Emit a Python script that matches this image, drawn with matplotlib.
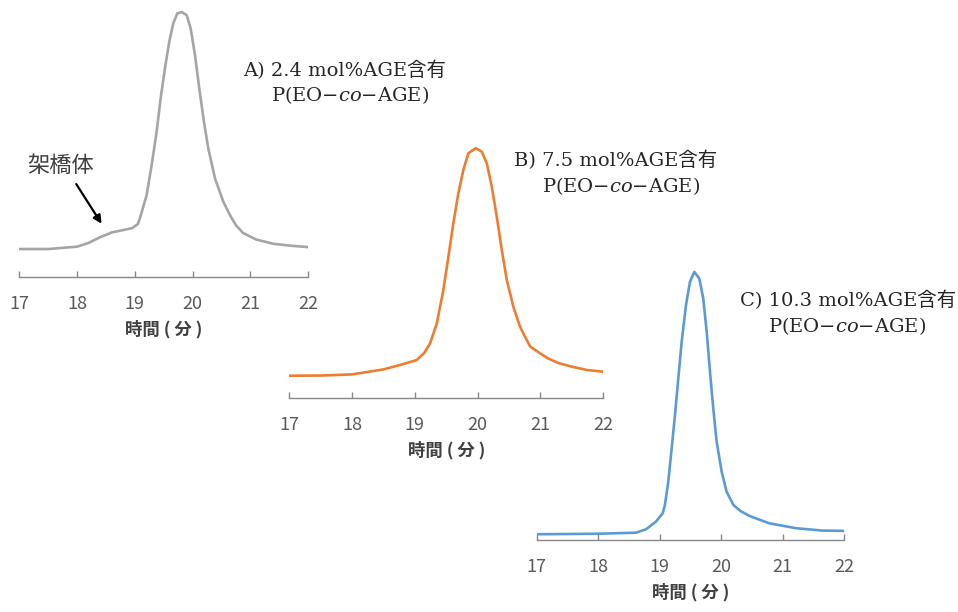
import matplotlib
matplotlib.use("Agg")
import matplotlib.pyplot as plt

# GPC traces (time in min, normalised intensity)
time_a = [17.0, 17.5, 18.0, 18.2, 18.4, 18.6, 18.8, 18.95, 19.05, 19.088,
          19.204, 19.29, 19.377, 19.446, 19.52, 19.595, 19.664, 19.734, 19.81,
          19.896, 19.965, 20.04, 20.114, 20.195, 20.27, 20.386, 20.53, 20.645,
          20.75, 20.87, 21.1, 21.4, 21.7, 22.0]
int_a = [0.0, 0.0, 0.01, 0.026, 0.05, 0.07, 0.08, 0.088, 0.105, 0.13,
         0.228, 0.354, 0.495, 0.636, 0.762, 0.875, 0.952, 0.994, 1.0,
         0.987, 0.931, 0.819, 0.678, 0.537, 0.425, 0.298, 0.2, 0.143,
         0.1, 0.068, 0.04, 0.022, 0.014, 0.008]

time_b = [17.0, 17.5, 18.0, 18.5, 18.8, 19.03, 19.15, 19.243, 19.35, 19.455,
          19.535, 19.614, 19.694, 19.774, 19.854, 19.97, 20.067, 20.147, 20.227,
          20.306, 20.386, 20.466, 20.571, 20.678, 20.757, 20.84, 21.0, 21.13,
          21.3, 21.5, 21.75, 22.0]
int_b = [0.0, 0.001, 0.006, 0.028, 0.05, 0.069, 0.1, 0.142, 0.23, 0.377,
         0.523, 0.67, 0.802, 0.905, 0.978, 1.0, 0.985, 0.934, 0.831,
         0.699, 0.553, 0.421, 0.303, 0.215, 0.171, 0.128, 0.098, 0.075,
         0.055, 0.04, 0.025, 0.018]

time_c = [17.0, 18.0, 18.615, 18.78, 18.94, 19.05, 19.087, 19.141, 19.196,
          19.25, 19.304, 19.359, 19.429, 19.494, 19.564, 19.645, 19.71, 19.766,
          19.82, 19.873, 19.928, 20.01, 20.09, 20.2, 20.307, 20.46, 20.78,
          21.22, 21.65, 22.0]
int_c = [0.0, 0.002, 0.006, 0.019, 0.048, 0.08, 0.112, 0.2, 0.327,
         0.454, 0.594, 0.733, 0.873, 0.962, 1.0, 0.975, 0.899, 0.772,
         0.619, 0.48, 0.353, 0.238, 0.162, 0.112, 0.09, 0.07, 0.042,
         0.023, 0.014, 0.013]

ticks = [17, 18, 19, 20, 21, 22]
xlabel = "時間 ( 分 )"
titles = [("A) 2.4 mol%AGE含有", "P(EO−$\\it{co}$−AGE)"),
          ("B) 7.5 mol%AGE含有", "P(EO−$\\it{co}$−AGE)"),
          ("C) 10.3 mol%AGE含有", "P(EO−$\\it{co}$−AGE)")]
colors = ["#A5A5A5", "#ED7D31", "#5B9BD5"]

plt.rcParams["font.family"] = ["Noto Sans CJK JP", "DejaVu Sans"]
plt.rcParams["mathtext.fontset"] = "dejavuserif"

fig = plt.figure(figsize=(9.58, 6.12), dpi=100)

# axes boxes in figure fractions and y-limits per panel
boxes = [[0.0201, 0.5474, 0.3017, 0.4395],
         [0.3020, 0.3492, 0.3275, 0.4220],
         [0.5602, 0.1176, 0.3208, 0.4493]]
ylims = [(-0.118, 1.017), (-0.099, 1.036), (-0.022, 1.026)]
series = [(time_a, int_a), (time_b, int_b), (time_c, int_c)]

axes = []
for box, yl, (t, y), col in zip(boxes, ylims, series, colors):
    ax = fig.add_axes(box)
    ax.plot(t, y, color=col, lw=1.9, solid_capstyle="round",
            solid_joinstyle="round")
    ax.set_xlim(17, 22)
    ax.set_ylim(*yl)
    for s in ["left", "top", "right"]:
        ax.spines[s].set_visible(False)
    ax.spines["bottom"].set_color("#888888")
    ax.spines["bottom"].set_linewidth(1.0)
    ax.set_yticks([])
    ax.set_xticks(ticks)
    ax.tick_params(axis="x", direction="in", length=4.5, width=1.0,
                   color="#888888", labelsize=13, labelcolor="#595959", pad=13)
    ax.set_xlabel(xlabel, fontsize=12.5, fontweight="bold", color="#404040",
                  labelpad=5)
    ax.patch.set_alpha(0)
    axes.append(ax)

# panel labels
label_pos = [(345, 70, 350, 95), (616, 160, 621, 186), (848, 300, 847, 326)]
for (l1, l2), (x1, y1, x2, y2) in zip(titles, label_pos):
    fig.text(x1 / 958, 1 - y1 / 612, l1, ha="center", va="center",
             fontsize=14, color="#262626",
             family=["DejaVu Serif", "Noto Sans CJK JP"])
    fig.text(x2 / 958, 1 - y2 / 612, l2, ha="center", va="center",
             fontsize=14, color="#262626", family=["DejaVu Serif"])

# crosslinked shoulder annotation
ax = axes[0]
ax.text(17.72, 0.354, "架橋体", ha="center", va="center", fontsize=16,
        color="#404040")
ax.annotate("", xy=(18.45, 0.097), xytext=(17.96, 0.284),
            arrowprops=dict(arrowstyle="-|>", color="black", lw=1.6,
                            mutation_scale=12))

fig.savefig("out.png", dpi=100)
